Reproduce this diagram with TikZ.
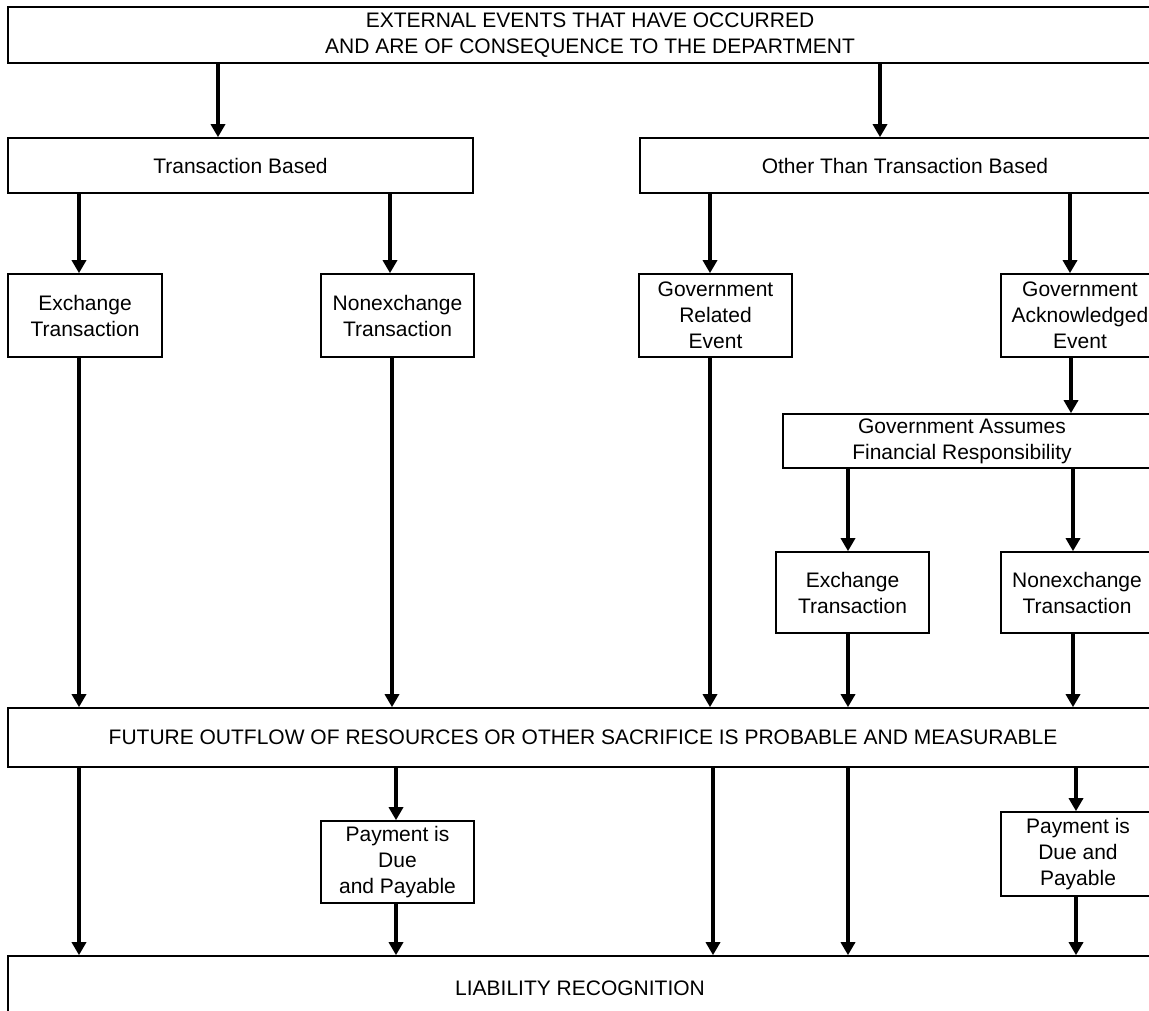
\documentclass[tikz,border=0pt]{standalone}
\usepackage{fontspec}
\setmainfont{Liberation Sans}
\usetikzlibrary{arrows.meta}
\begin{document}
\begin{tikzpicture}[x={(1pt,0)}, y={(0,-1pt)},
  box/.style={draw=black, line width=1.6pt, fill=white, inner sep=0pt, align=center,
    font=\fontsize{21}{26}\selectfont},
  lbl/.style={inner sep=0pt, align=center, font=\fontsize{21}{26}\selectfont},
  arr/.style={line width=3.4pt, -{Triangle[width=14pt,length=13pt]}}]
\useasboundingbox (0,0) rectangle (1149,1011);
\clip (0,0) rectangle (1149,1011);
\fill[white] (0,0) rectangle (1149,1011);
% boxes
\node[box, minimum width=1164, minimum height=56] (top) at (590,35)
  {EXTERNAL EVENTS THAT HAVE OCCURRED\\AND ARE OF CONSEQUENCE TO THE DEPARTMENT};
\node[box, minimum width=465, minimum height=55] (tb) at (240.5,165.5) {Transaction Based};
\node[box, minimum width=530, minimum height=55] (otb) at (905,165.5) {Other Than Transaction Based};
\node[box, minimum width=154, minimum height=83] (ex1) at (85,315.5) {Exchange\\Transaction};
\node[box, minimum width=153, minimum height=83] (nx1) at (397.5,315.5) {Nonexchange\\Transaction};
\node[box, minimum width=153, minimum height=83] (gre) at (715.5,315.5) {Government\\Related\\Event};
\node[box, minimum width=158, minimum height=83] (gae) at (1080,315.5) {Government\\Acknowledged\\Event};
\node[box, minimum width=420, minimum height=54] (gafr) at (993,441) {};
\node[lbl] (gafrt) at (962,441) {Government Assumes\\Financial Responsibility};
\node[box, minimum width=153, minimum height=81] (ex2) at (852.5,592.5) {Exchange\\Transaction};
\node[box, minimum width=152, minimum height=81] (nx2) at (1077,592.5) {Nonexchange\\Transaction};
\node[box, minimum width=1150, minimum height=59] (fut) at (583,737.5)
  {FUTURE OUTFLOW OF RESOURCES OR OTHER SACRIFICE IS PROBABLE AND MEASURABLE};
\node[box, minimum width=153, minimum height=82] (pay1) at (397.5,862) {Payment is\\Due\\and Payable};
\node[box, minimum width=154, minimum height=84] (pay2) at (1078,854) {Payment is\\Due and\\Payable};
\node[box, minimum width=1144, minimum height=64] (lia) at (580,988) {LIABILITY RECOGNITION};
% connectors
\draw[arr] (218,0 |- top.south) -- (218,0 |- tb.north);
\draw[arr] (880,0 |- top.south) -- (880,0 |- otb.north);
\draw[arr] (79,0 |- tb.south) -- (79,0 |- ex1.north);
\draw[arr] (390,0 |- tb.south) -- (390,0 |- nx1.north);
\draw[arr] (710,0 |- otb.south) -- (710,0 |- gre.north);
\draw[arr] (1070,0 |- otb.south) -- (1070,0 |- gae.north);
\draw[arr] (1071,0 |- gae.south) -- (1071,0 |- gafr.north);
\draw[arr] (848,0 |- gafr.south) -- (848,0 |- ex2.north);
\draw[arr] (1073,0 |- gafr.south) -- (1073,0 |- nx2.north);
\draw[arr] (79,0 |- ex1.south) -- (79,0 |- fut.north);
\draw[arr] (392,0 |- nx1.south) -- (392,0 |- fut.north);
\draw[arr] (710,0 |- gre.south) -- (710,0 |- fut.north);
\draw[arr] (848,0 |- ex2.south) -- (848,0 |- fut.north);
\draw[arr] (1073,0 |- nx2.south) -- (1073,0 |- fut.north);
\draw[arr] (79,0 |- fut.south) -- (79,0 |- lia.north);
\draw[arr] (396,0 |- fut.south) -- (396,0 |- pay1.north);
\draw[arr] (713,0 |- fut.south) -- (713,0 |- lia.north);
\draw[arr] (848,0 |- fut.south) -- (848,0 |- lia.north);
\draw[arr] (1076,0 |- fut.south) -- (1076,0 |- pay2.north);
\draw[arr] (396,0 |- pay1.south) -- (396,0 |- lia.north);
\draw[arr] (1076,0 |- pay2.south) -- (1076,0 |- lia.north);
\end{tikzpicture}
\end{document}
